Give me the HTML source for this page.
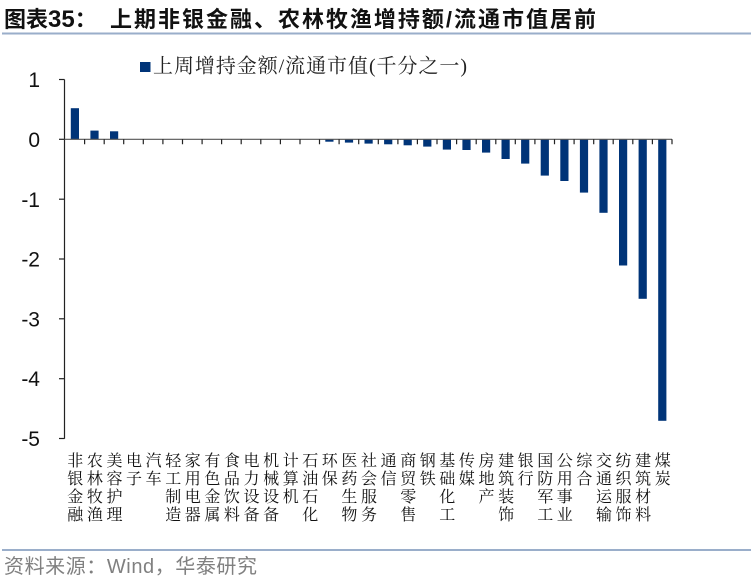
<!DOCTYPE html>
<html><head><meta charset="utf-8"><style>
html,body{margin:0;padding:0;background:#fff;}
svg{display:block;}
</style></head><body>
<svg width="751" height="579" viewBox="0 0 751 579" xmlns="http://www.w3.org/2000/svg">
<!-- Title -->
<text x="4" y="27" font-family="'Noto Sans CJK SC', sans-serif" font-weight="bold" font-size="22" fill="#111">图表<tspan font-family="'Liberation Sans', sans-serif" font-size="24">35</tspan><tspan>：</tspan></text>
<text x="110" y="27" font-family="'Liberation Sans','Noto Sans CJK SC', sans-serif" font-weight="bold" font-size="22" fill="#111" textLength="486" lengthAdjust="spacing">上期非银金融、农林牧渔增持额/流通市值居前</text>
<rect x="2" y="32.5" width="749" height="2" fill="#9aaeca"/>

<!-- Legend -->
<rect x="140" y="62" width="10.5" height="10" fill="#003478"/>
<text x="153" y="72.5" font-family="'Liberation Serif','Noto Serif CJK SC', serif" font-size="20" fill="#222" textLength="314" lengthAdjust="spacing">上周增持金额/流通市值(千分之一)</text>

<!-- Bars -->
<g fill="#003478">
<rect x="70.8" y="108.2" width="8.2" height="31.1"/>
<rect x="90.4" y="130.6" width="8.2" height="8.7"/>
<rect x="110" y="131.3" width="8.2" height="8"/>
<rect x="325.3" y="139.3" width="8.2" height="2.4"/>
<rect x="344.9" y="139.3" width="8.2" height="3.3"/>
<rect x="364.5" y="139.3" width="8.2" height="4.3"/>
<rect x="384.1" y="139.3" width="8.2" height="5"/>
<rect x="403.6" y="139.3" width="8.2" height="6"/>
<rect x="423.2" y="139.3" width="8.2" height="7.3"/>
<rect x="442.8" y="139.3" width="8.2" height="10.3"/>
<rect x="462.4" y="139.3" width="8.2" height="10.7"/>
<rect x="482" y="139.3" width="8.2" height="13.3"/>
<rect x="501.5" y="139.3" width="8.2" height="19.7"/>
<rect x="521.1" y="139.3" width="8.2" height="24.3"/>
<rect x="540.7" y="139.3" width="8.2" height="36.3"/>
<rect x="560.3" y="139.3" width="8.2" height="41.7"/>
<rect x="579.9" y="139.3" width="8.2" height="53.3"/>
<rect x="599.4" y="139.3" width="8.2" height="73.5"/>
<rect x="619" y="139.3" width="8.2" height="126.2"/>
<rect x="638.6" y="139.3" width="8.2" height="159.5"/>
<rect x="658.2" y="139.3" width="8.2" height="281.5"/>
</g>

<!-- Axes -->
<g stroke="#222" stroke-width="1.2" fill="none">
<line x1="64.5" y1="79.5" x2="64.5" y2="438.8"/>
<line x1="59" y1="79.5" x2="64.5" y2="79.5"/>
<line x1="59" y1="139.3" x2="64.5" y2="139.3"/>
<line x1="59" y1="199.2" x2="64.5" y2="199.2"/>
<line x1="59" y1="259" x2="64.5" y2="259"/>
<line x1="59" y1="318.8" x2="64.5" y2="318.8"/>
<line x1="59" y1="378.7" x2="64.5" y2="378.7"/>
<line x1="59" y1="438.5" x2="64.5" y2="438.5"/>
<line x1="64.5" y1="139.3" x2="672" y2="139.3" stroke="#555"/>
<path d="M84.6 139.3v5M104.2 139.3v5M123.7 139.3v5M143.3 139.3v5M162.9 139.3v5M182.5 139.3v5M202.1 139.3v5M221.6 139.3v5M241.2 139.3v5M260.8 139.3v5M280.4 139.3v5M300 139.3v5M319.5 139.3v5M339.1 139.3v5M358.7 139.3v5M378.3 139.3v5M397.9 139.3v5M417.4 139.3v5M437 139.3v5M456.6 139.3v5M476.2 139.3v5M495.8 139.3v5M515.3 139.3v5M534.9 139.3v5M554.5 139.3v5M574.1 139.3v5M593.7 139.3v5M613.2 139.3v5M632.8 139.3v5M652.4 139.3v5M672 139.3v5"/>
</g>

<!-- Y labels -->
<g font-family="'Liberation Sans', sans-serif" font-size="21" fill="#111" text-anchor="end">
<text x="40" y="87">1</text>
<text x="40" y="147">0</text>
<text x="40" y="207">-1</text>
<text x="40" y="266.5">-2</text>
<text x="40" y="326.5">-3</text>
<text x="40" y="386">-4</text>
<text x="40" y="446">-5</text>
</g>

<!-- Category labels -->
<g font-family="'Noto Serif CJK SC', serif" font-size="16" fill="#111" text-anchor="middle">
<text x="75.3" y="466"><tspan x="75.3">非</tspan><tspan x="75.3" dy="18">银</tspan><tspan x="75.3" dy="18">金</tspan><tspan x="75.3" dy="18">融</tspan></text>
<text x="94.9" y="466"><tspan x="94.9">农</tspan><tspan x="94.9" dy="18">林</tspan><tspan x="94.9" dy="18">牧</tspan><tspan x="94.9" dy="18">渔</tspan></text>
<text x="114.5" y="466"><tspan x="114.5">美</tspan><tspan x="114.5" dy="18">容</tspan><tspan x="114.5" dy="18">护</tspan><tspan x="114.5" dy="18">理</tspan></text>
<text x="134" y="466"><tspan x="134">电</tspan><tspan x="134" dy="18">子</tspan></text>
<text x="153.6" y="466"><tspan x="153.6">汽</tspan><tspan x="153.6" dy="18">车</tspan></text>
<text x="173.2" y="466"><tspan x="173.2">轻</tspan><tspan x="173.2" dy="18">工</tspan><tspan x="173.2" dy="18">制</tspan><tspan x="173.2" dy="18">造</tspan></text>
<text x="192.8" y="466"><tspan x="192.8">家</tspan><tspan x="192.8" dy="18">用</tspan><tspan x="192.8" dy="18">电</tspan><tspan x="192.8" dy="18">器</tspan></text>
<text x="212.4" y="466"><tspan x="212.4">有</tspan><tspan x="212.4" dy="18">色</tspan><tspan x="212.4" dy="18">金</tspan><tspan x="212.4" dy="18">属</tspan></text>
<text x="231.9" y="466"><tspan x="231.9">食</tspan><tspan x="231.9" dy="18">品</tspan><tspan x="231.9" dy="18">饮</tspan><tspan x="231.9" dy="18">料</tspan></text>
<text x="251.5" y="466"><tspan x="251.5">电</tspan><tspan x="251.5" dy="18">力</tspan><tspan x="251.5" dy="18">设</tspan><tspan x="251.5" dy="18">备</tspan></text>
<text x="271.1" y="466"><tspan x="271.1">机</tspan><tspan x="271.1" dy="18">械</tspan><tspan x="271.1" dy="18">设</tspan><tspan x="271.1" dy="18">备</tspan></text>
<text x="290.7" y="466"><tspan x="290.7">计</tspan><tspan x="290.7" dy="18">算</tspan><tspan x="290.7" dy="18">机</tspan></text>
<text x="310.3" y="466"><tspan x="310.3">石</tspan><tspan x="310.3" dy="18">油</tspan><tspan x="310.3" dy="18">石</tspan><tspan x="310.3" dy="18">化</tspan></text>
<text x="329.8" y="466"><tspan x="329.8">环</tspan><tspan x="329.8" dy="18">保</tspan></text>
<text x="349.4" y="466"><tspan x="349.4">医</tspan><tspan x="349.4" dy="18">药</tspan><tspan x="349.4" dy="18">生</tspan><tspan x="349.4" dy="18">物</tspan></text>
<text x="369" y="466"><tspan x="369">社</tspan><tspan x="369" dy="18">会</tspan><tspan x="369" dy="18">服</tspan><tspan x="369" dy="18">务</tspan></text>
<text x="388.6" y="466"><tspan x="388.6">通</tspan><tspan x="388.6" dy="18">信</tspan></text>
<text x="408.2" y="466"><tspan x="408.2">商</tspan><tspan x="408.2" dy="18">贸</tspan><tspan x="408.2" dy="18">零</tspan><tspan x="408.2" dy="18">售</tspan></text>
<text x="427.7" y="466"><tspan x="427.7">钢</tspan><tspan x="427.7" dy="18">铁</tspan></text>
<text x="447.3" y="466"><tspan x="447.3">基</tspan><tspan x="447.3" dy="18">础</tspan><tspan x="447.3" dy="18">化</tspan><tspan x="447.3" dy="18">工</tspan></text>
<text x="466.9" y="466"><tspan x="466.9">传</tspan><tspan x="466.9" dy="18">媒</tspan></text>
<text x="486.5" y="466"><tspan x="486.5">房</tspan><tspan x="486.5" dy="18">地</tspan><tspan x="486.5" dy="18">产</tspan></text>
<text x="506.1" y="466"><tspan x="506.1">建</tspan><tspan x="506.1" dy="18">筑</tspan><tspan x="506.1" dy="18">装</tspan><tspan x="506.1" dy="18">饰</tspan></text>
<text x="525.6" y="466"><tspan x="525.6">银</tspan><tspan x="525.6" dy="18">行</tspan></text>
<text x="545.2" y="466"><tspan x="545.2">国</tspan><tspan x="545.2" dy="18">防</tspan><tspan x="545.2" dy="18">军</tspan><tspan x="545.2" dy="18">工</tspan></text>
<text x="564.8" y="466"><tspan x="564.8">公</tspan><tspan x="564.8" dy="18">用</tspan><tspan x="564.8" dy="18">事</tspan><tspan x="564.8" dy="18">业</tspan></text>
<text x="584.4" y="466"><tspan x="584.4">综</tspan><tspan x="584.4" dy="18">合</tspan></text>
<text x="604" y="466"><tspan x="604">交</tspan><tspan x="604" dy="18">通</tspan><tspan x="604" dy="18">运</tspan><tspan x="604" dy="18">输</tspan></text>
<text x="623.5" y="466"><tspan x="623.5">纺</tspan><tspan x="623.5" dy="18">织</tspan><tspan x="623.5" dy="18">服</tspan><tspan x="623.5" dy="18">饰</tspan></text>
<text x="643.1" y="466"><tspan x="643.1">建</tspan><tspan x="643.1" dy="18">筑</tspan><tspan x="643.1" dy="18">材</tspan><tspan x="643.1" dy="18">料</tspan></text>
<text x="662.7" y="466"><tspan x="662.7">煤</tspan><tspan x="662.7" dy="18">炭</tspan></text>
</g>

<!-- Source -->
<rect x="2" y="549" width="749" height="2" fill="#9aaeca"/>
<text x="4" y="573" font-family="'Liberation Sans','Noto Sans CJK SC', sans-serif" font-size="20" fill="#808080" textLength="253" lengthAdjust="spacing">资料来源：Wind，华泰研究</text>
</svg>
</body></html>
